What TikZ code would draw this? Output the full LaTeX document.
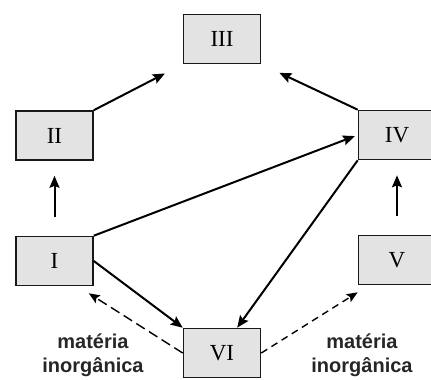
\documentclass[tikz,border=0pt]{standalone}
\usepackage{fontspec}
\setmainfont{Liberation Serif}
\setsansfont{Liberation Sans}
\usetikzlibrary{arrows.meta,positioning}

\begin{document}
\begin{tikzpicture}[x=1pt,y=-1pt,
    every node/.append style={font=\fontsize{23}{26}\selectfont},
    stage/.style={draw=black!90,fill=black!11,line width=1.6pt,minimum width=77pt,
                  minimum height=49pt,inner sep=0pt},
    flow/.style={line width=2pt,-{Stealth[length=12pt,width=10pt,inset=2pt]}},
    mineral/.style={line width=1.4pt,-{Stealth[length=11pt,width=9pt,inset=2pt]}},
    label/.style={font=\sffamily\bfseries\fontsize{20}{24}\selectfont,align=center,
                  text=black!85}]
    \useasboundingbox (0,0) rectangle (431,380);
    \clip (0,0) rectangle (431,380);
    \node[stage] (III) at (222,39)    {III};
    \node[stage] (II)  at (54.5,135.5) {II};
    \node[stage] (IV)  at (397,135)   {IV};
    \node[stage] (I)   at (54.5,261)  {I};
    \node[stage] (V)   at (397,260)   {V};
    \node[stage] (VI)  at (222,353)   {VI};
    \draw[flow,shorten >=20pt] (II.north east) -- (III.south west);
    \draw[flow,shorten >=20pt] (IV.north west) -- (III.south east);
    \draw[flow,shorten <=19pt,shorten >=15pt] (I.north) -- (II.south);
    \draw[flow,shorten <=19pt,shorten >=15pt] (V.north) -- (IV.south);
    \draw[flow,shorten >=3pt] (I.north east) -- (IV.west);
    \draw[flow] (I.east) -- (VI.north west);
    \draw[flow] (IV.south west) -- (VI.59);
    \draw[mineral,dash pattern=on 10pt off 5pt] (VI.west) -- ([xshift=-5pt,yshift=-7pt]I.south east);
    \draw[mineral,dash pattern=on 7pt off 5pt] (VI.east) -- ([yshift=-7pt]V.south west);
    \node[label] (orgL) at (93,355)  {matéria\\inorgânica};
    \node[label] (orgR) at (362,355) {matéria\\inorgânica};
\end{tikzpicture}
\end{document}
